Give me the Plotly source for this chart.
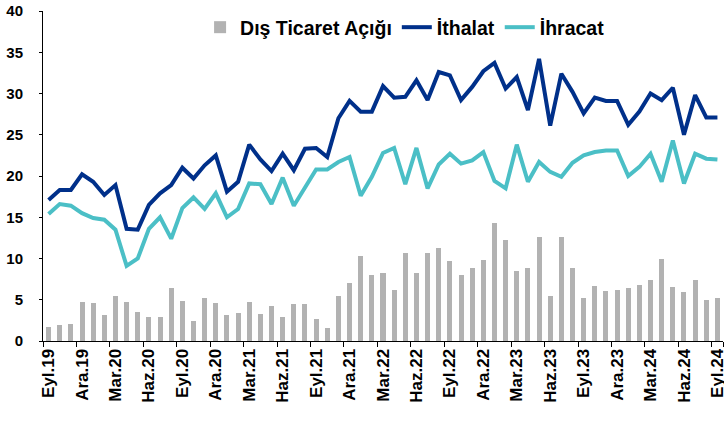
import plotly.graph_objects as go

# Monthly data, Eyl.19 (Sep 2019) .. Eyl.24 (Sep 2024), billion USD
ithalat = [17.1, 18.3, 18.3, 20.2, 19.3, 17.7, 18.9, 13.6, 13.5, 16.5,
           17.9, 18.9, 21.0, 19.7, 21.3, 22.5, 18.1, 19.3, 23.8, 22.0,
           20.6, 22.7, 20.7, 23.3, 23.4, 22.3, 27.0, 29.1, 27.8, 27.8,
           30.9, 29.5, 29.6, 31.6, 29.2, 32.6, 32.2, 29.2, 30.8, 32.7,
           33.7, 30.6, 32.0, 28.0, 34.2, 26.1, 32.4, 30.2, 27.6, 29.5,
           29.1, 29.1, 26.2, 27.8, 30.0, 29.2, 30.7, 25.0, 29.8, 27.1,
           27.1]
ihracat = [15.4, 16.6, 16.4, 15.5, 14.9, 14.7, 13.5, 9.1, 10.0, 13.6,
           15.0, 12.4, 16.1, 17.4, 16.0, 17.9, 15.0, 16.0, 19.1, 19.0,
           16.6, 19.8, 16.4, 18.7, 20.8, 20.8, 21.7, 22.3, 17.6, 19.9,
           22.8, 23.4, 19.0, 23.4, 18.5, 21.4, 22.7, 21.5, 21.9, 22.9,
           19.4, 18.5, 23.8, 19.3, 21.7, 20.5, 19.9, 21.6, 22.5, 22.9,
           23.1, 23.1, 20.0, 21.1, 22.7, 19.3, 24.3, 19.1, 22.7, 22.1,
           22.0]
dis_ticaret_acigi = [1.74, 1.9, 2.06, 4.73, 4.57, 3.11, 5.45, 4.73, 3.52, 2.91,
                     2.91, 6.38, 4.89, 2.46, 5.17, 4.57, 3.15, 3.35, 4.77, 3.27,
                     4.28, 2.95, 4.44, 4.44, 2.63, 1.62, 5.5, 6.99, 10.3, 8.0,
                     8.3, 6.18, 10.7, 8.3, 10.7, 11.3, 9.7, 8.0, 8.8, 9.8,
                     14.3, 12.2, 8.5, 8.8, 12.6, 5.4, 12.6, 8.8, 5.17, 6.7,
                     6.06, 6.22, 6.38, 6.83, 7.43, 10.0, 6.59, 5.94, 7.43, 5.0,
                     5.17]
month_abbr = ["Oca", "Şub", "Mar", "Nis", "May", "Haz",
              "Tem", "Ağu", "Eyl", "Eki", "Kas", "Ara"]
start_month_index = 8   # Eyl
start_year = 2019
tick_labels = ["Eyl.19", "Ara.19", "Mar.20", "Haz.20", "Eyl.20", "Ara.20",
               "Mar.21", "Haz.21", "Eyl.21", "Ara.21", "Mar.22", "Haz.22",
               "Eyl.22", "Ara.22", "Mar.23", "Haz.23", "Eyl.23", "Ara.23",
               "Mar.24", "Haz.24", "Eyl.24"]

months = []
for k in range(len(ithalat)):
    m = start_month_index + k
    months.append(f"{month_abbr[m % 12]}.{(start_year + m // 12) % 100:02d}")

FONT = "Liberation Sans, Arial, sans-serif"

fig = go.Figure()
fig.add_trace(go.Bar(x=months, y=dis_ticaret_acigi, name="Dış Ticaret Açığı",
                     marker=dict(color="#B2B2B2", line=dict(width=0)),
                     width=0.45))
fig.add_trace(go.Scatter(x=months, y=ithalat, name="İthalat", mode="lines",
                         line=dict(color="#00308A", width=4)))
fig.add_trace(go.Scatter(x=months, y=ihracat, name="İhracat", mode="lines",
                         line=dict(color="#4BBFC6", width=4)))

fig.update_layout(
    width=724, height=421,
    margin=dict(l=43, r=1, t=11, b=80, autoexpand=False),
    paper_bgcolor="white", plot_bgcolor="white",
    font=dict(family=FONT, color="black"),
    showlegend=True,
    legend=dict(orientation="h", x=0.231, xanchor="left", y=0.95,
                yanchor="middle", font=dict(size=19.5, weight="bold"),
                bgcolor="rgba(0,0,0,0)", itemwidth=30, traceorder="normal",
                tracegroupgap=0),
    bargap=0,
)
fig.update_xaxes(type="category", tickmode="array",
                 tickvals=tick_labels, ticktext=tick_labels, tickangle=-90,
                 tickson="boundaries",
                 ticks="outside", ticklen=5, tickcolor="black",
                 showline=True, linecolor="black", linewidth=1,
                 showgrid=False, zeroline=False, automargin=False,
                 tickfont=dict(size=17, weight="bold", family=FONT))
fig.update_yaxes(range=[0, 40], dtick=5, ticks="outside", ticklen=3,
                 tickcolor="black", showline=True, linecolor="black",
                 linewidth=1, showgrid=False, zeroline=False,
                 automargin=False, ticklabelstandoff=13,
                 tickfont=dict(size=15, weight="bold", family=FONT))

fig.write_html("out.html",
               config={"displayModeBar": False},
               post_script="document.body.style.margin='0';"
                           "document.body.style.padding='0';")
